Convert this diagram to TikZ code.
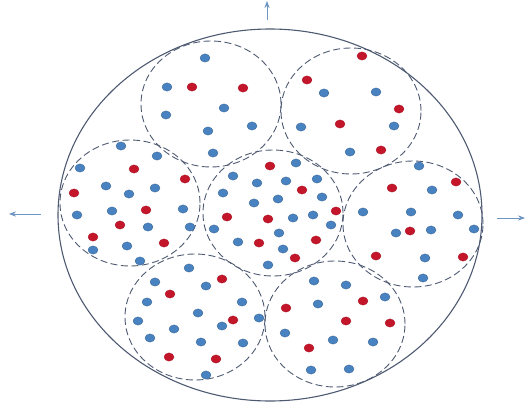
\documentclass[tikz,border=0pt]{standalone}
\usepackage{xcolor}
\usepackage{tikz}
\usetikzlibrary{arrows.meta,shapes.geometric}
\definecolor{DotBlue}{RGB}{72, 130, 192}
\definecolor{DotRed}{RGB}{196, 22, 42}
\definecolor{RimGray}{RGB}{78, 90, 114}
\definecolor{ArrowBlue}{RGB}{110, 150, 195}

\begin{document}
\begin{tikzpicture}[x=1pt, y=-1pt,
  vessel/.style={ellipse, draw=RimGray, line width=1.1pt, minimum width=424pt, minimum height=372pt, inner sep=0pt},
  cell/.style={ellipse, draw=RimGray, line width=0.9pt, dash pattern=on 7pt off 3.5pt, minimum width=140pt, minimum height=126pt, inner sep=0pt},
  bdot/.style={fill=DotBlue, draw=DotBlue!75!black, line width=0.3pt},
  rdot/.style={fill=DotRed, draw=DotRed!85!black, line width=0.3pt},
  every path/.style={>=Stealth}
]
\useasboundingbox (0,0) rectangle (525,404);

\node[vessel] (vessel) at (270,215) {};

\node[cell] (tl) at (211,104) {};
\node[cell] (tr) at (351,111) {};
\node[cell] (lf) at (130,203) {};
\node[cell] (md) at (273,213) {};
\node[cell] (rt) at (413,224) {};
\node[cell] (bl) at (195,317) {};
\node[cell] (br) at (335,324) {};

\coordinate (topA) at (267,20);
\coordinate (topB) at (267,1);
\coordinate (leftA) at (41,214);
\coordinate (leftB) at (9,214);
\coordinate (rightA) at (497,218);
\coordinate (rightB) at (525,218);
\draw[->, ArrowBlue, line width=0.9pt] (topA) -- (topB);
\draw[->, ArrowBlue, line width=0.9pt] (leftA) -- (leftB);
\draw[->, ArrowBlue, line width=0.9pt] (rightA) -- (rightB);

% blue particles
\foreach \px/\py in {205/58, 167/87, 224/108, 166/115, 208/131, 252/126, 213/153,
  324/93, 376/92, 301/127, 394/126, 350/152,
  121/146, 157/156, 80/168, 106/186, 129/194, 155/188, 77/215, 112/211, 183/209,
  148/227, 190/227, 93/250, 127/246, 140/261,
  296/163, 233/176, 257/183, 286/181, 317/179, 223/193, 254/203, 278/199, 322/197,
  293/218, 313/215, 331/225, 214/229, 279/233, 238/242, 283/249, 268/265,
  419/166, 432/190, 363/212, 411/212, 458/215, 396/233, 431/230, 474/229, 425/258, 423/278,
  189/268, 155/282, 206/286, 147/302, 242/302, 198/313, 222/326, 259/318, 138/321,
  174/329, 150/338, 201/342, 243/343, 206/375,
  314/281, 346/285, 385/297, 318/304, 285/333, 333/340, 373/342, 311/370, 349/369}
  \draw[bdot] (\px,\py) ellipse [x radius=5, y radius=4.1];

% red particles
\foreach \px/\py in {192/87, 243/88,
  362/56, 307/80, 399/109, 340/124, 381/150,
  134/169, 185/179, 74/193, 146/210, 120/225, 93/237, 164/243,
  270/166, 302/190, 336/211, 227/217, 268/219, 259/243, 316/240, 295/258,
  456/182, 392/188, 410/231, 376/256, 463/257,
  222/279, 170/294, 233/320, 169/357, 216/359,
  363/301, 286/308, 346/321, 390/323, 309/348}
  \draw[rdot] (\px,\py) ellipse [x radius=5, y radius=4.1];
\end{tikzpicture}
\end{document}
